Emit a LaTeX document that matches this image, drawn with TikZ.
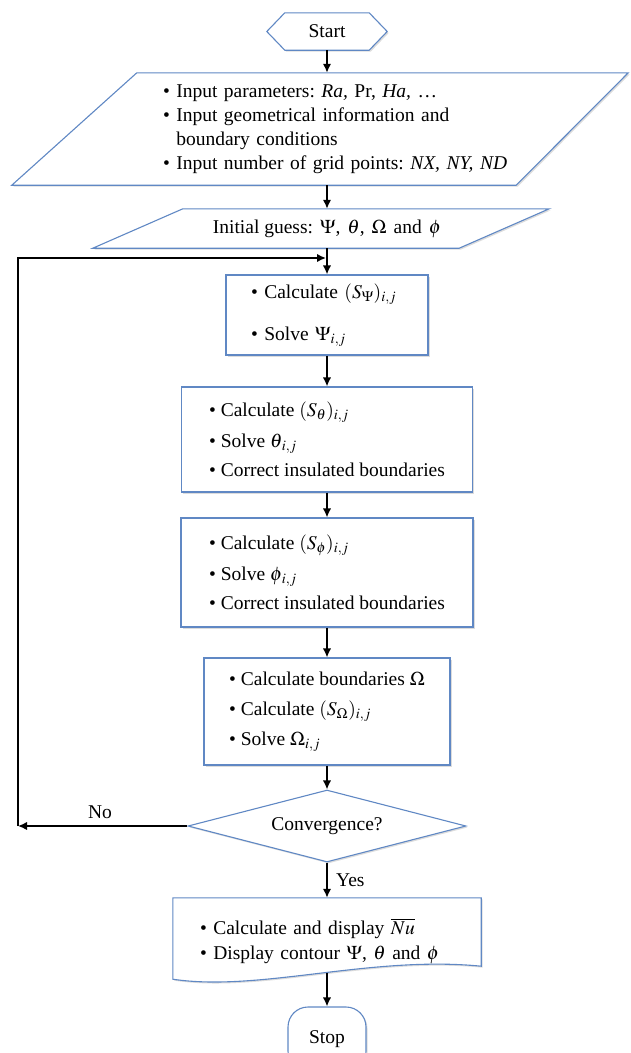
\documentclass[tikz,border=0pt]{standalone}
\usepackage{mathptmx}
\usepackage[no-math]{fontspec}
\setmainfont{Liberation Serif}
\usetikzlibrary{shapes.geometric,arrows.meta,shadows,calc}
\definecolor{boxblue}{RGB}{96,136,196}
\newcommand{\myfs}{\fontsize{19.5}{24}\selectfont}
\pgfdeclarelayer{bg}
\pgfsetlayers{bg,main}
\tikzset{
  shp/.style={draw=boxblue, line width=1.1pt, fill=white, line join=miter,
    drop shadow={shadow xshift=1.5pt, shadow yshift=-1.5pt, opacity=0.3, fill=black!45}},
  txt/.style={font=\myfs, inner sep=0pt},
  bx/.style={shp, rectangle, font=\myfs, align=left, inner sep=0pt},
  arr/.style={line width=2.3pt, -{Latex[length=9pt,width=8.5pt]}},
}
\frenchspacing
\begin{document}
\begin{tikzpicture}[x=1pt,y=-1pt]
\path[use as bounding box] (0,0) rectangle (631,1053);
\clip (0,0) rectangle (631,1053);

% Start
\node[txt, minimum width=84pt, minimum height=37pt] (start) at (327,31.5) {Start};
% Input
\node[txt, text width=370pt, align=left, minimum height=112pt] (input) at (348,129)
  {\textbullet\ Input parameters: \textit{Ra,} Pr, \textit{Ha,} \dots\\
   \textbullet\ Input geometrical information and\\
   \phantom{\textbullet\ }boundary conditions\\
   \textbullet\ Input number of grid points: \textit{NX, NY, ND}};
% Initial guess
\node[txt, minimum width=276pt, minimum height=39pt] (init) at (327,228.5)
  {Initial guess:\hspace{7pt}$\Psi$,\hspace{7pt}$\theta$,\hspace{7pt}$\Omega$\hspace{7pt}and\hspace{7pt}$\phi$};
% Boxes
\node[bx, text width=152pt, inner xsep=25pt, minimum height=80pt] (b1) at (327,315)
  {\textbullet\ Calculate $(S_{\Psi})_{i,j}$\\[18pt]\textbullet\ Solve $\Psi_{i,j}$};
\node[bx, minimum width=291pt, minimum height=105pt] (b2) at (327,439.5)
  {\textbullet\ Calculate $(S_{\theta})_{i,j}$\\[7pt]\textbullet\ Solve $\theta_{\,i,j}$\\[5pt]\textbullet\ Correct insulated boundaries};
\node[bx, minimum width=292pt, minimum height=109pt] (b3) at (327,572.5)
  {\textbullet\ Calculate $(S_{\phi})_{i,j}$\\[7pt]\textbullet\ Solve $\phi_{\,i,j}$\\[5pt]\textbullet\ Correct insulated boundaries};
\node[bx, minimum width=246pt, minimum height=107pt] (b4) at (327,711.5)
  {\textbullet\ Calculate boundaries $\Omega$\\[6pt]\textbullet\ Calculate $(S_{\Omega})_{i,j}$\\[6pt]\textbullet\ Solve $\Omega_{i,j}$};
% Decision
\node[shp, diamond, aspect=3.86, minimum width=278pt, minimum height=72pt, inner sep=0pt, font=\myfs] (conv) at (327,826) {Convergence?};
% Final output
\node[txt, text width=254pt, align=left, minimum height=75pt] (final) at (327,935.5)
  {\rule{0pt}{28pt}\textbullet\ Calculate and display $\overline{Nu}$\\[1pt]\textbullet\ Display contour $\Psi$, $\theta$ and $\phi$};
% Stop
\node[shp, rounded corners=20pt, minimum width=78pt, minimum height=64pt, font=\myfs, inner sep=0pt] (stop) at (327,1039) {Stop};

\begin{pgfonlayer}{bg}
\draw[shp] (start.north west) -- (start.north east) -- ($(start.east)+(18,0)$) -- (start.south east)
  -- (start.south west) -- ($(start.west)+(-18,0)$) -- cycle;
\draw[shp] ($(input.north west)+(-26,0)$) -- ($(input.north east)+(95,0)$)
  -- ($(input.south east)+(-17,0)$) -- ($(input.south west)+(-151,0)$) -- cycle;
\draw[shp] ($(init.north west)+(-6,0)$) -- ($(init.north east)+(84,0)$)
  -- ($(init.south east)+(-6,0)$) -- ($(init.south west)+(-96,0)$) -- cycle;
\draw[shp] ($(final.north west)+(-27,0)$) -- ($(final.north east)+(27,0)$)
  -- ($(final.south east)+(27,-7)$) .. controls ($(final.south east)+(-84,-18)$) and ($(final.south west)+(60,19)$)
  .. ($(final.south west)+(-27,6)$) -- cycle;
\end{pgfonlayer}

% Labels
\node[txt] (no) at (100,812) {No};
\node[txt, anchor=west] (yes) at (336,880) {Yes};

% Connectors
\coordinate (noturn) at (18,826);
\coordinate (loopin) at (326,258);
\draw[arr] (start.south) -- (start.south |- input.north);
\draw[arr] (input.south -| init.north) -- (init.north);
\draw[arr] (init.south) -- (b1.north);
\draw[arr] (b1.south) -- (b2.north);
\draw[arr] (b2.south) -- (b3.north);
\draw[arr] (b3.south) -- (b4.north);
\draw[arr] (b4.south) -- (conv.north);
\draw[arr] (conv.south) -- (final.north);
\draw[arr] (final.south) -- (stop.north);
\draw[arr] (conv.west) -- (noturn);
\draw[arr] (noturn) |- (loopin);
\end{tikzpicture}
\end{document}
